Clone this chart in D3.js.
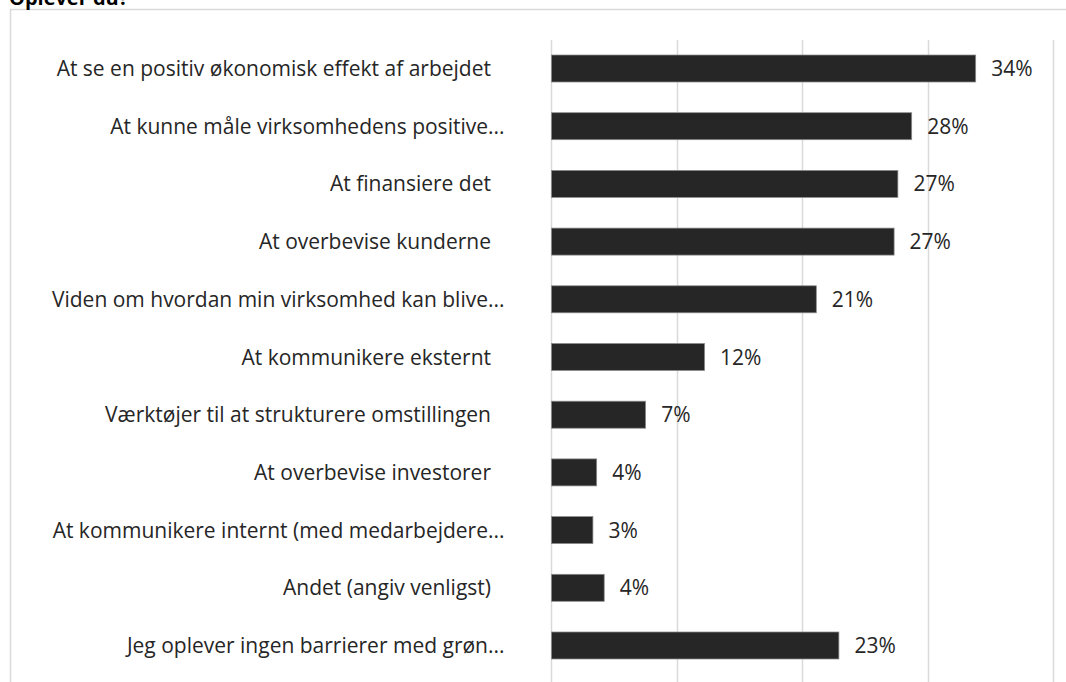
<!DOCTYPE html>
<html>
<head>
<meta charset="utf-8">
<script src="https://cdn.jsdelivr.net/npm/d3@7"></script>
<style>
  html, body { margin: 0; padding: 0; background: #fff; }
  svg { display: block; }
</style>
</head>
<body>
<svg id="chart" width="1066" height="682"></svg>
<script>
const title = "Oplever du?";
const categories = [
  "At se en positiv økonomisk effekt af arbejdet",
  "At kunne måle virksomhedens positive",
  "At finansiere det",
  "At overbevise kunderne",
  "Viden om hvordan min virksomhed kan blive",
  "At kommunikere eksternt",
  "Værktøjer til at strukturere omstillingen",
  "At overbevise investorer",
  "At kommunikere internt (med medarbejdere",
  "Andet (angiv venligst)",
  "Jeg oplever ingen barrierer med grøn"
];
const truncated = [false, true, false, false, true, false, false, false, true, false, true];
const values = [33.8, 28.7, 27.6, 27.3, 21.1, 12.2, 7.5, 3.6, 3.3, 4.2, 22.9];
const valueLabels = ["34%", "28%", "27%", "27%", "21%", "12%", "7%", "4%", "3%", "4%", "23%"];
const xTicks = [0, 10, 20, 30, 40];

const svg = d3.select("#chart");
const font = "'Open Sans', 'Noto Sans', sans-serif";
const fs = 21;

// outer frame
svg.append("rect")
  .attr("x", 10.5).attr("y", 9.5)
  .attr("width", 1070).attr("height", 700)
  .attr("fill", "none").attr("stroke", "#d9d9d9").attr("stroke-width", 1.5);

// title (partially clipped at top, as in the original)
svg.append("text")
  .attr("x", 9).attr("y", 5)
  .attr("font-family", font).attr("font-weight", "bold")
  .attr("font-size", 20).attr("fill", "#000")
  .text(title);

const x = d3.scaleLinear().domain([0, 40]).range([551, 1053]);
const y = d3.scaleBand().domain(categories).range([40, 674]).paddingInner(0.532).paddingOuter(0.26);

// gridlines
svg.append("g").selectAll("line").data(xTicks).join("line")
  .attr("x1", d => Math.round(x(d)) + 0.5).attr("x2", d => Math.round(x(d)) + 0.5)
  .attr("y1", 40).attr("y2", 682)
  .attr("stroke", "#d9d9d9").attr("stroke-width", 1.5);

// bars
svg.append("g").selectAll("rect").data(values).join("rect")
  .attr("x", x(0) + 0.5)
  .attr("y", (d, i) => y(categories[i]))
  .attr("width", d => x(d) - x(0))
  .attr("height", y.bandwidth())
  .attr("fill", "#262626")
  .attr("stroke", "#8c8c8c").attr("stroke-width", 0.75);

// value labels
svg.append("g").selectAll("text").data(values).join("text")
  .attr("x", d => x(d) + 16)
  .attr("y", (d, i) => y(categories[i]) + y.bandwidth() / 2)
  .attr("dy", "0.36em")
  .attr("font-family", font).attr("font-size", fs).attr("fill", "#262626")
  .text((d, i) => valueLabels[i]);

// category labels
const labelX = 491;
const cat = svg.append("g");
cat.selectAll("text.cat").data(categories).join("text")
  .attr("class", "cat")
  .attr("x", (d, i) => truncated[i] ? labelX - 3 : labelX)
  .attr("y", d => y(d) + y.bandwidth() / 2)
  .attr("dy", "0.36em")
  .attr("text-anchor", "end")
  .attr("font-family", font).attr("font-size", fs).attr("fill", "#262626")
  .text(d => d);
cat.selectAll("text.ell").data(categories.filter((d, i) => truncated[i])).join("text")
  .attr("class", "ell")
  .attr("x", labelX - 3)
  .attr("y", d => y(d) + y.bandwidth() / 2)
  .attr("dy", "0.36em")
  .attr("font-family", font).attr("font-size", fs).attr("fill", "#262626")
  .text("...");
</script>
</body>
</html>
